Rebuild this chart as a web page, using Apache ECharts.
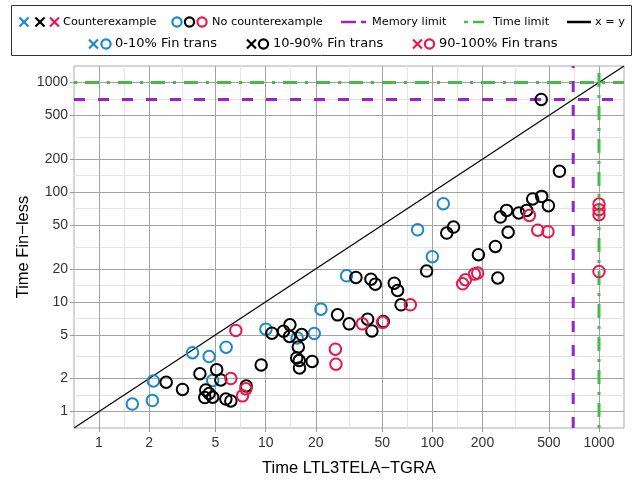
<!DOCTYPE html>
<html><head><meta charset="utf-8">
<script src="https://cdn.jsdelivr.net/npm/echarts@6/dist/echarts.min.js"></script>
<style>html,body{margin:0;padding:0;background:#fff}#c{width:636px;height:480px}</style>
</head><body><div id="c"></div>
<script>
// ---- data ----
const tickValues = [1, 2, 5, 10, 20, 50, 100, 200, 500, 1000];
const minorValues = [1.414, 3.162, 7.071, 14.14, 31.62, 70.71, 141.4, 316.2, 707.1];
const axisMin = 0.7079, axisMax = 1412.5;
const memoryLimit = 700, timeLimit = 1000;

// [Time LTL3TELA-TGRA, Time Fin-less]
const lowFinRuns = [ // 0-10% Fin trans, no counterexample
  [1.585,1.17],[2.09,1.26],[2.12,1.90],[3.64,3.44],[4.58,3.17],[5.79,3.86],[4.81,1.92],
  [10.03,5.64],[15.46,4.69],[19.56,5.15],[21.45,8.58],[30.57,17.28],[81.6,45.4],[100,25.8],[116.4,78.5]
];
const midFinRuns = [ // 10-90% Fin trans, no counterexample
  [2.53,1.85],[3.17,1.59],[4.03,2.21],[5.08,2.41],[5.38,1.94],[4.37,1.57],[4.31,1.34],[4.81,1.35],
  [4.58,1.46],[5.77,1.30],[6.18,1.25],[7.64,1.71],[9.40,2.66],[10.9,5.18],[12.8,5.40],[13.98,6.17],
  [13.9,4.84],[16.45,5.03],[15.7,3.88],[15.35,3.08],[15.9,2.92],[15.96,2.50],[19.0,2.86],[27.0,7.61],
  [31.7,6.30],[40.9,6.95],[43.4,5.43],[50.8,6.61],[34.8,16.7],[42.8,16.1],[45.5,14.5],[59.1,14.8],
  [61.9,12.7],[64.9,9.39],[92.4,19.1],[122,42.4],[134,48.1],[189,26.9],[239,32.0],[247,16.5],
  [256,59.3],[279,68.2],[285,43.1],[330,64.6],[368,68.2],[400,86.7],[453,91.5],[497,75.3],
  [579,155],[450,700]
];
const highFinRuns = [ // 90-100% Fin trans, no counterexample
  [6.62,5.49],[6.18,2.00],[7.26,1.39],[7.61,1.61],[26.2,3.70],[26.4,2.70],[38.0,6.30],[50.3,6.50],
  [73.8,9.39],[152,14.6],[158,15.9],[179,17.9],[187,18.3],[382,61.4],[429,45.0],[494,43.6],
  [1000,78.0],[1000,69.2],[1000,62.3],[1000,18.9]
];

const xTitle = 'Time LTL3TELA\u2212TGRA';
const yTitle = 'Time Fin\u2212less';
const legendTexts = ['Counterexample', 'No counterexample', 'Memory limit', 'Time limit', 'x = y',
  '0-10% Fin trans', '10-90% Fin trans', '90-100% Fin trans'];

// ---- styles ----
const BLUE = '#1b87cc', BLACK = '#000000', RED = '#e6184c';
const PURPLE = '#9a24c2', GREEN = '#46b946';
const FONT = 'Liberation Sans';
const GREEN_DASH = [3, 8, 14, 8];

function fmt(v) { return String(+(+v).toPrecision(6)); }

function majorAxis(isX) {
  return {
    type: 'log', logBase: 10, min: axisMin, max: axisMax, z: 2,
    name: isX ? xTitle : yTitle, nameLocation: 'middle', nameGap: isX ? 32 : 42,
    nameMoveOverlap: false,
    nameTextStyle: { fontFamily: FONT, fontSize: 16.5, color: '#000' },
    axisLine: { show: false },
    axisTick: { show: true, length: 4, lineStyle: { color: '#999' }, customValues: tickValues },
    axisLabel: { customValues: tickValues, fontFamily: FONT, fontSize: 14, color: '#333',
      margin: isX ? 8 : 6, formatter: fmt },
    splitLine: { show: true, lineStyle: { color: '#a3a3a3', width: 1 } },
    minorTick: { show: false }, minorSplitLine: { show: false }
  };
}
function minorAxis(isX) {
  return {
    type: 'log', logBase: 10, min: axisMin, max: axisMax, z: 1,
    position: isX ? 'top' : 'right',
    axisLine: { show: false },
    axisTick: { show: false, customValues: minorValues },
    axisLabel: { show: false, customValues: minorValues },
    splitLine: { show: true, lineStyle: { color: '#e4e4e4', width: 1 } }
  };
}

function lineSeries(data, color, width, type) {
  return { type: 'line', data, xAxisIndex: 0, yAxisIndex: 0, showSymbol: false, symbol: 'none',
    silent: true, z: 3, lineStyle: { color, width, type, cap: 'butt' }, animation: false };
}
function scatterSeries(data, color) {
  return { type: 'scatter', data, xAxisIndex: 0, yAxisIndex: 0, symbol: 'circle', symbolSize: 11.5,
    z: 4, itemStyle: { color: 'rgba(0,0,0,0)', borderColor: color, borderWidth: 2, opacity: 1 },
    animation: false };
}

// ---- legend graphics ----
function cross(cx, cy, color) {
  return [
    { type: 'line', shape: { x1: cx - 4.5, y1: cy - 4.5, x2: cx + 4.5, y2: cy + 4.5 }, style: { stroke: color, lineWidth: 2.2 } },
    { type: 'line', shape: { x1: cx - 4.5, y1: cy + 4.5, x2: cx + 4.5, y2: cy - 4.5 }, style: { stroke: color, lineWidth: 2.2 } }
  ];
}
function ring(cx, cy, color) {
  return { type: 'circle', shape: { cx, cy, r: 4.6 }, style: { fill: 'none', stroke: color, lineWidth: 2.2 } };
}
function label(x, y, text, size) {
  return { type: 'text', x, y, style: { text, fontFamily: 'DejaVu Sans', fontSize: size, fill: '#000',
    verticalAlign: 'middle', align: 'left' } };
}
function seg(x1, x2, y, color) {
  return { type: 'line', shape: { x1, y1: y, x2, y2: y }, style: { stroke: color, lineWidth: 2.5 } };
}
const r1 = 22, r2 = 44;
const legendEls = [
  { type: 'rect', shape: { x: 11.5, y: 5.5, width: 620, height: 50 }, style: { fill: '#fff', stroke: '#333', lineWidth: 1 } },
  ...cross(24, r1, BLUE), ...cross(40, r1, BLACK), ...cross(54.5, r1, RED),
  label(63, r1, legendTexts[0], 11.3),
  ring(177, r1, BLUE), ring(189.5, r1, BLACK), ring(202, r1, RED),
  label(212, r1, legendTexts[1], 11.3),
  seg(341, 356, r1, PURPLE), seg(361, 366, r1, PURPLE),
  label(372, r1, legendTexts[2], 11.3),
  seg(464, 468, r1, GREEN), seg(473, 484, r1, GREEN),
  label(493, r1, legendTexts[3], 11.3),
  seg(567, 591, r1, BLACK),
  label(595, r1, legendTexts[4], 11.3),
  ...cross(93.5, r2, BLUE), ring(106, r2, BLUE), label(115, r2, legendTexts[5], 13),
  ...cross(251.5, r2, BLACK), ring(263.5, r2, BLACK), label(273, r2, legendTexts[6], 13),
  ...cross(417.5, r2, RED), ring(429.5, r2, RED), label(439, r2, legendTexts[7], 13)
];

const chart = echarts.init(document.getElementById('c'), null, { renderer: 'canvas' });
chart.setOption({
  animation: false,
  backgroundColor: '#fff',
  grid: { left: 74, right: 12, top: 66, bottom: 52, show: true, borderColor: '#aaaaaa', borderWidth: 1,
    backgroundColor: '#fff', containLabel: false, outerBoundsMode: 'none' },
  xAxis: [majorAxis(true), minorAxis(true)],
  yAxis: [majorAxis(false), minorAxis(false)],
  graphic: { elements: legendEls },
  series: [
    lineSeries([[axisMin, axisMin], [axisMax, axisMax]], '#000', 1.2, 'solid'),
    lineSeries([[axisMin, memoryLimit], [axisMax, memoryLimit]], PURPLE, 3, [11, 13]),
    lineSeries([[memoryLimit, axisMin], [memoryLimit, axisMax]], PURPLE, 3, [11, 13]),
    lineSeries([[axisMin, timeLimit], [axisMax, timeLimit]], GREEN, 3, GREEN_DASH),
    lineSeries([[timeLimit, axisMin], [timeLimit, axisMax]], GREEN, 3, GREEN_DASH),
    scatterSeries(lowFinRuns, BLUE),
    scatterSeries(midFinRuns, BLACK),
    scatterSeries(highFinRuns, RED)
  ]
});
</script></body></html>
